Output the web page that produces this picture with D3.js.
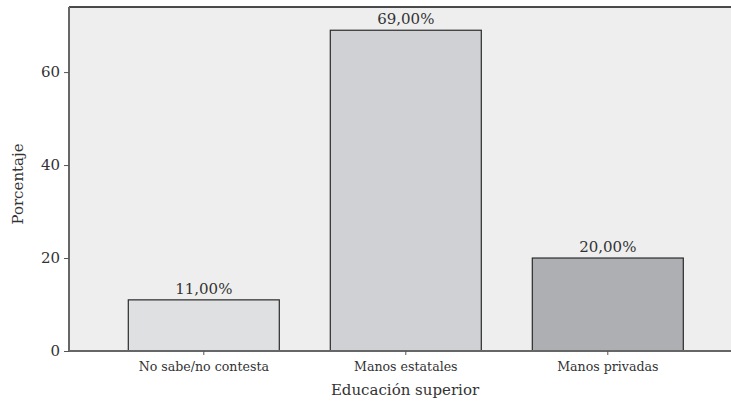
<!DOCTYPE html>
<html>
<head>
<meta charset="utf-8">
<script src="https://cdn.jsdelivr.net/npm/d3@7"></script>
<style>
  html, body { margin: 0; padding: 0; background: #fff; }
  text { font-family: "DejaVu Serif", "Liberation Serif", serif; fill: #333; }
</style>
</head>
<body>
<svg id="chart" width="731" height="402"></svg>
<script>
// Opinion on who should run higher education (percent of respondents)
const categories = ["No sabe/no contesta", "Manos estatales", "Manos privadas"];
const values = [11, 69, 20];
const valueLabels = ["11,00%", "69,00%", "20,00%"];
const barColors = ["#dfe0e2", "#d0d1d4", "#aeafb2"];
const yTicks = [0, 20, 40, 60];

const svg = d3.select("#chart");
const plot = { left: 69, right: 731, top: 7, bottom: 351 };
const serif = "DejaVu Serif, serif";

const y = d3.scaleLinear().domain([0, 74]).range([plot.bottom, plot.top]);
const x = d3.scaleBand().domain(categories).range([128.3, 683.3]).paddingInner(0.2525).paddingOuter(0);

// plot background
svg.append("rect")
  .attr("x", plot.left).attr("y", plot.top)
  .attr("width", plot.right - plot.left).attr("height", plot.bottom - plot.top)
  .attr("fill", "#eeeeee");

// top frame line
svg.append("line")
  .attr("x1", plot.left).attr("x2", plot.right)
  .attr("y1", plot.top).attr("y2", plot.top)
  .attr("stroke", "#111").attr("stroke-width", 1.5);

// bars
svg.selectAll("rect.bar").data(categories).enter().append("rect")
  .attr("class", "bar")
  .attr("x", d => x(d))
  .attr("y", (d, i) => y(values[i]))
  .attr("width", x.bandwidth())
  .attr("height", (d, i) => y(0) - y(values[i]))
  .attr("fill", (d, i) => barColors[i])
  .attr("stroke", "#2a2a2a").attr("stroke-width", 1.2);

// value labels
svg.selectAll("text.val").data(categories).enter().append("text")
  .attr("class", "val")
  .attr("x", d => x(d) + x.bandwidth() / 2)
  .attr("y", (d, i) => y(values[i]) - 6)
  .attr("text-anchor", "middle")
  .attr("font-size", 15)
  .text((d, i) => valueLabels[i]);

// y axis
const yAxis = svg.append("g")
  .attr("transform", `translate(${plot.left},0)`)
  .call(d3.axisLeft(y).tickValues(yTicks).tickSize(5).tickPadding(4));
yAxis.select(".domain").attr("stroke", "#666").attr("stroke-width", 2)
  .attr("d", `M0,${plot.top}V${plot.bottom}`);
yAxis.selectAll(".tick line").attr("stroke", "#555");
yAxis.selectAll(".tick text").attr("font-size", 15).attr("fill", "#333")
  .attr("font-family", serif);

// x axis
const xAxis = svg.append("g")
  .attr("transform", `translate(0,${plot.bottom})`)
  .call(d3.axisBottom(x).tickSize(4).tickPadding(7));
xAxis.select(".domain").attr("stroke", "#666").attr("stroke-width", 2)
  .attr("d", `M${plot.left},0H${plot.right}`);
xAxis.selectAll(".tick line").attr("stroke", "#555");
xAxis.selectAll(".tick text").attr("font-size", 12.6).attr("fill", "#333")
  .attr("font-family", serif);

// axis titles
svg.append("text")
  .attr("x", 405).attr("y", 395)
  .attr("text-anchor", "middle")
  .attr("font-size", 15)
  .text("Educación superior");

svg.append("text")
  .attr("transform", "translate(23,184) rotate(-90)")
  .attr("text-anchor", "middle")
  .attr("font-size", 15)
  .text("Porcentaje");
</script>
</body>
</html>
